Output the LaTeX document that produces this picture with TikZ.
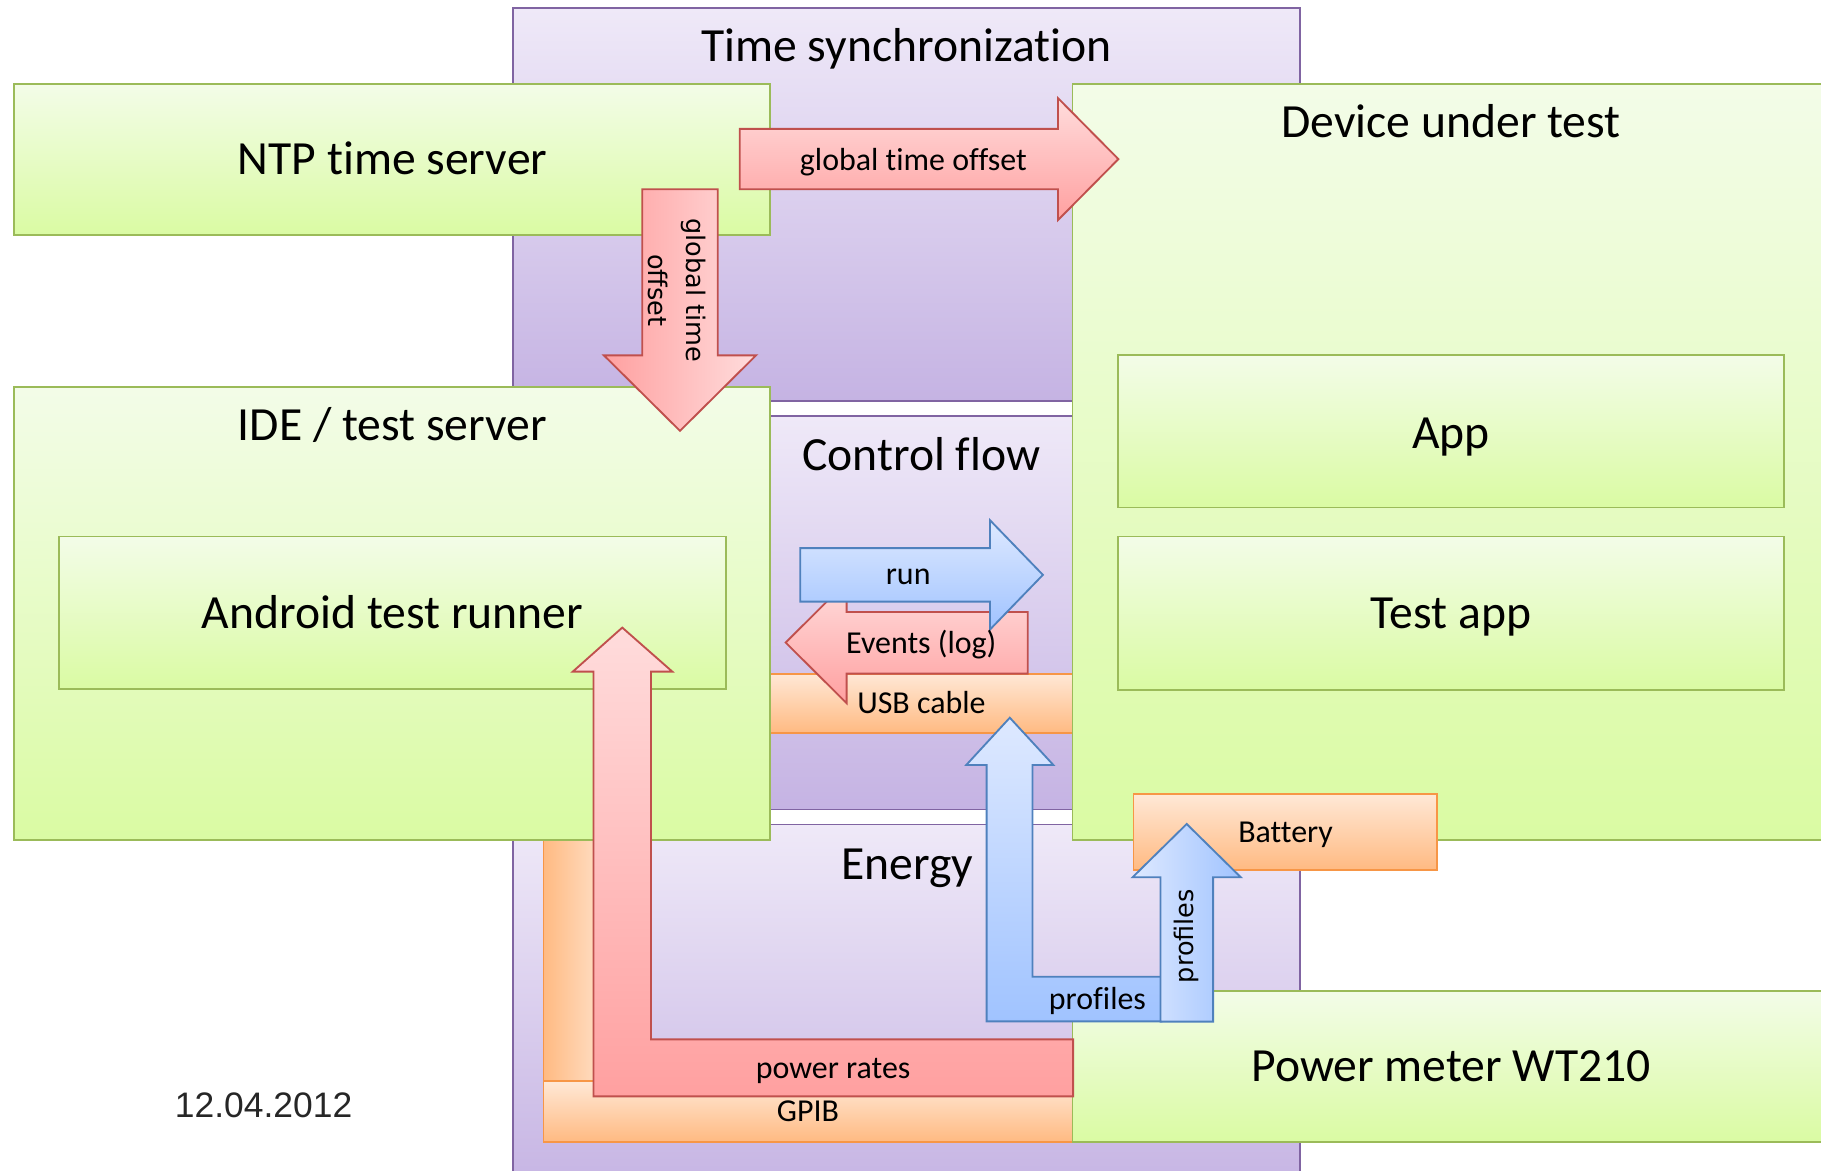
\documentclass[tikz,border=0pt]{standalone}
\usepackage{fontspec}
\setmainfont{Carlito}[Ligatures=NoCommon]
\newfontfamily\dejavufont{DejaVu Sans}
\newfontfamily\datefontfam{Liberation Sans}
\definecolor{purB}{RGB}{128,100,162}
\definecolor{purT}{RGB}{239,233,248}
\definecolor{purD}{RGB}{197,179,227}
\definecolor{grnB}{RGB}{155,187,89}
\definecolor{grnT}{RGB}{243,252,232}
\definecolor{grnD}{RGB}{218,251,163}
\definecolor{redB}{RGB}{192,80,77}
\definecolor{redT}{RGB}{255,220,220}
\definecolor{redD}{RGB}{255,160,160}
\definecolor{bluB}{RGB}{79,129,189}
\definecolor{bluT}{RGB}{222,233,255}
\definecolor{bluD}{RGB}{160,195,255}
\definecolor{orgB}{RGB}{247,150,70}
\definecolor{orgT}{RGB}{255,232,214}
\definecolor{orgD}{RGB}{255,186,130}
\tikzset{
  rbox/.style={draw, line width=1.6pt, inner sep=0pt, outer sep=0pt, anchor=north west},
  pbox/.style={rbox, draw=purB, top color=purT, bottom color=purD},
  gbox/.style={rbox, draw=grnB, top color=grnT, bottom color=grnD},
  obox/.style={rbox, draw=orgB, top color=orgT, bottom color=orgD},
  redarrowv/.style={draw=redB, line width=1.6pt, top color=redT, bottom color=redD},
  redarrowh/.style={draw=redB, line width=1.6pt, left color=redD, right color=redT},
  bluarrowv/.style={draw=bluB, line width=1.6pt, top color=bluT, bottom color=bluD},
  bluarrowh/.style={draw=bluB, line width=1.6pt, left color=bluT, right color=bluD},
  titlef/.style={font=\fontsize{41}{49}\selectfont, inner sep=0pt},
  smallf/.style={font=\fontsize{27.5}{33}\selectfont, inner sep=0pt},
  rotf/.style={font=\dejavufont\fontsize{22}{33}\selectfont, inner sep=0pt},
  datef/.style={font=\datefontfam\fontsize{30.5}{36}\selectfont, inner sep=0pt, text=black!85},
}
\begin{document}
\begin{tikzpicture}[x=1pt, y=-1pt]
\clip (0,0) rectangle (1568,1008);
% purple groups
\node[pbox, minimum width=677pt, minimum height=338pt] (ts) at (442,7) {};
\node[pbox, minimum width=677pt, minimum height=339pt] (cf) at (442,358) {};
\node[pbox, minimum width=677pt, minimum height=320pt] (en) at (442,710) {};
% GPIB and USB
\node[rbox, draw=orgB, left color=orgD, right color=orgT, minimum width=62pt, minimum height=231pt] (gpibv) at (468,700) {};
\node[obox, minimum width=456pt, minimum height=52pt] (gpibh) at (468,931) {};
\node[obox, minimum width=261pt, minimum height=51pt] (usb) at (663,580) {};
% green boxes
\node[gbox, minimum width=651pt, minimum height=130pt] (ntp) at (12,72) {};
\node[gbox, minimum width=651pt, minimum height=390pt] (ide) at (12,333) {};
\node[gbox, minimum width=574pt, minimum height=131pt] (atr) at (51,462) {};
\node[gbox, minimum width=700pt, minimum height=651pt] (dut) at (923.5,72) {};
\node[gbox, minimum width=573pt, minimum height=131pt] (app) at (963,306) {};
\node[gbox, minimum width=573pt, minimum height=132pt] (tapp) at (963,462) {};
\node[obox, minimum width=261pt, minimum height=65pt] (bat) at (976,684) {};
\node[gbox, minimum width=700pt, minimum height=130pt] (pm) at (923.5,853) {};
% arrows
\path[redarrowv] (637,111) -- (911,111) -- (911,84.5) -- (963,137) -- (911,189.5) -- (911,163) -- (637,163) -- cycle;
\path[redarrowh] (553,163) -- (618,163) -- (618,306) -- (651,306) -- (585.5,371) -- (520,306) -- (553,306) -- cycle;
\path[redarrowv] (885,527) -- (729,527) -- (729,501) -- (676.5,553.3) -- (729,605.5) -- (729,580) -- (885,580) -- cycle;
\path[bluarrowv] (689,472) -- (852.5,472) -- (852.5,448) -- (898,495) -- (852.5,542) -- (852.5,518) -- (689,518) -- cycle;
\path[redarrowv] (511,944) -- (511,578.3) -- (493.2,578.3) -- (535.8,540.4) -- (578.9,578.3) -- (560.5,578.3) -- (560.5,895) -- (924,895) -- (924,944) -- cycle;
\path[bluarrowv] (849.5,879.5) -- (849.5,658.7) -- (832,658.7) -- (869.5,618) -- (907,658.7) -- (889,658.7) -- (889,841) -- (1000,841) -- (1000,879.5) -- cycle;
\path[bluarrowh] (999.3,879.7) -- (999.3,755.4) -- (975.2,755.4) -- (1021.8,709.5) -- (1068.4,755.4) -- (1044.6,755.4) -- (1044.6,879.7) -- cycle;
% texts
\node[titlef, anchor=base] (tTS) at (780.5,53) {Time synchronization};
\node[titlef, anchor=base] (tNTP) at (338,150) {NTP time server};
\node[smallf, anchor=base] (tGTO) at (786.5,146.4) {global time offset};
\node[rotf, rotate=-90, align=center] (tGTO2) at (583,250) {global time\\offset};
\node[titlef, anchor=base] (tIDE) at (338,379) {IDE / test server};
\node[titlef, anchor=base] (tCF) at (793.4,404.7) {Control flow};
\node[titlef, anchor=base] (tATR) at (338,541) {Android test runner};
\node[titlef, anchor=base] (tDUT) at (1249.5,118) {Device under test};
\node[titlef, anchor=base] (tApp) at (1249.5,386) {App};
\node[titlef, anchor=base] (tTApp) at (1249.5,541) {Test app};
\node[smallf, anchor=base] (tRun) at (782,503.7) {run};
\node[smallf, anchor=base] (tEv) at (793.3,562.5) {Events (log)};
\node[smallf, anchor=base] (tUSB) at (793.4,614.2) {USB cable};
\node[titlef, anchor=base] (tEn) at (781,757) {Energy};
\node[smallf, anchor=base] (tBat) at (1107,725.6) {Battery};
\node[rotf, rotate=90] (tProf2) at (1022,806) {profiles};
\node[smallf, anchor=base] (tProf) at (945,869) {profiles};
\node[smallf, anchor=base] (tPR) at (717.4,928.5) {power rates};
\node[smallf, anchor=base] (tGPIB) at (695.7,965.8) {GPIB};
\node[titlef, anchor=base] (tPM) at (1249.6,931.4) {Power meter WT210};
\node[datef, anchor=base] (tDate) at (227,962) {12.04.2012};
\end{tikzpicture}
\end{document}
